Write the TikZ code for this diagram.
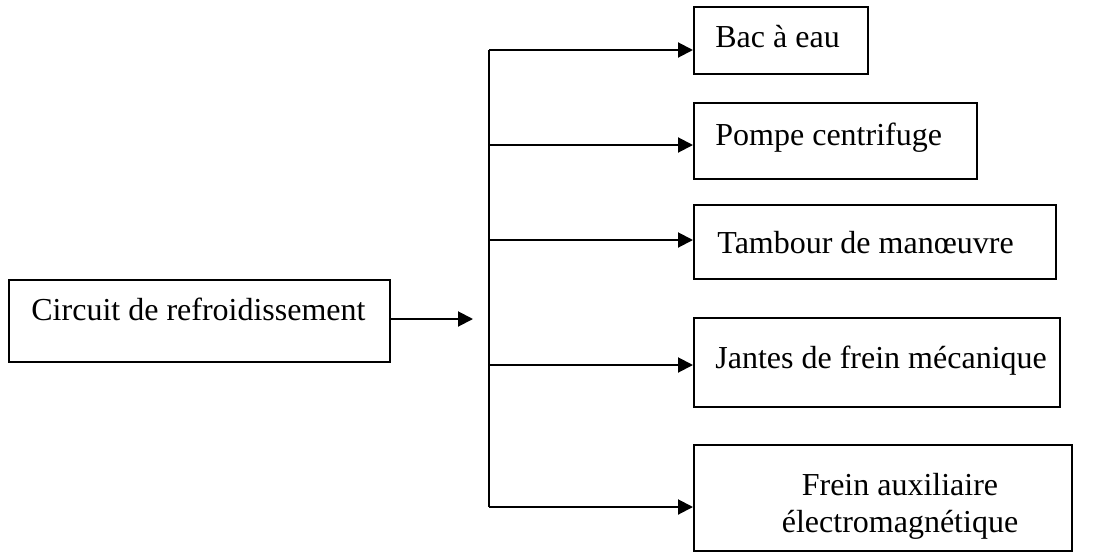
\documentclass[tikz,border=0pt]{standalone}
\usepackage{fontspec}
\setmainfont{Liberation Serif}
\usetikzlibrary{arrows.meta,fit}
\begin{document}
\begin{tikzpicture}[x=0.5pt,y=-0.5pt,
  box/.style={draw,line width=1pt,inner sep=0pt},
  label/.style={inner sep=0pt,anchor=base west,font=\fontsize{16}{18.5}\selectfont},
  arr/.style={line width=1pt,-{Triangle[length=7.5pt,width=7.5pt]}},
  wire/.style={line width=1pt}]
  % canvas
  \useasboundingbox[fill=white] (0,0) rectangle (1104,552);

  % source block
  \node[box,fit={(9,280) (390,362)}] (src) {};
  \node[label] (srct) at (31,320) {Circuit de refroidissement};

  % target blocks
  \node[box,fit={(694,7) (868,74)}] (bac) {};
  \node[label] (bact) at (715,47) {Bac à eau};
  \node[box,fit={(694,103) (977,179)}] (pompe) {};
  \node[label] (pompet) at (715,145) {Pompe centrifuge};
  \node[box,fit={(694,205) (1056,279)}] (tamb) {};
  \node[label] (tambt) at (717,253) {Tambour de manœuvre};
  \node[box,fit={(694,318) (1060,407)}] (jant) {};
  \node[label] (jantt) at (715,368) {Jantes de frein mécanique};
  \node[box,fit={(694,445) (1072,551)}] (frein) {};
  \node[inner sep=0pt,align=center,font=\fontsize{16}{18.5}\selectfont] (freint) at (900,506)
    {Frein auxiliaire\\électromagnétique};

  % feed arrow and distribution bus
  \coordinate (s0) at (390,319);
  \coordinate (s1) at (473,319);
  \draw[arr] (src.east |- s0) -- (s1);

  \coordinate (b1) at (489,50);
  \coordinate (b2) at (489,145);
  \coordinate (b3) at (489,240);
  \coordinate (b4) at (489,365);
  \coordinate (b5) at (489,507);
  \draw[wire] (b1) -- (b5);

  \draw[arr] (b1) -- (b1 -| bac.west);
  \draw[arr] (b2) -- (b2 -| pompe.west);
  \draw[arr] (b3) -- (b3 -| tamb.west);
  \draw[arr] (b4) -- (b4 -| jant.west);
  \draw[arr] (b5) -- (b5 -| frein.west);
\end{tikzpicture}
\end{document}
